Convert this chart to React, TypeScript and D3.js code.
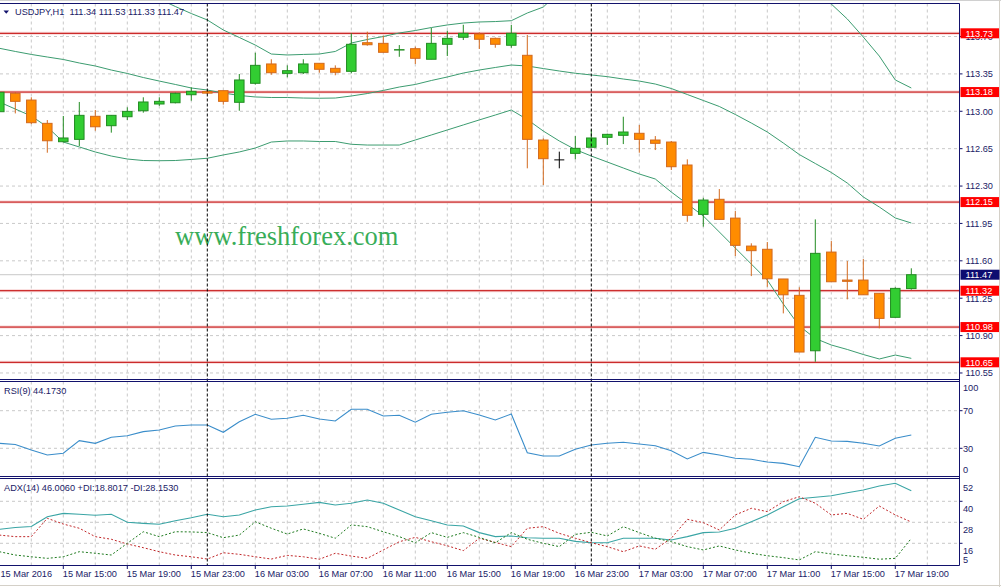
import React from "react";
import * as d3 from "d3";

// ---------- DATA ----------
const opens = [
  112.996, 113.168, 113.105, 112.887, 112.715, 112.737, 112.953, 112.865, 112.949, 113.005,
  113.068, 113.08, 113.155, 113.185, 113.193, 113.084, 113.262, 113.443, 113.355, 113.361,
  113.449, 113.402, 113.374, 113.642, 113.636, 113.574, 113.586, 113.487, 113.627, 113.693,
  113.723, 113.683, 113.618, 113.524, 112.731, 112.545, 112.606, 112.663, 112.756, 112.775,
  112.794, 112.731, 112.712, 112.497, 112.035, 112.176, 112.0, 111.738, 111.708, 111.43,
  111.277, 110.758, 111.682, 111.42, 111.42, 111.296, 111.071, 111.34,
];
const highs = [
  113.2, 113.18, 113.131, 112.918, 112.956, 113.087, 113.012, 112.962, 113.037, 113.131,
  113.131, 113.174, 113.224, 113.2, 113.193, 113.349, 113.548, 113.487, 113.43, 113.487,
  113.449, 113.43, 113.73, 113.745, 113.707, 113.62, 113.605, 113.78, 113.754, 113.81,
  113.739, 113.69, 113.808, 113.714, 112.747, 112.622, 112.768, 112.831, 112.79, 112.949,
  112.871, 112.768, 112.722, 112.55, 112.19, 112.272, 112.066, 111.764, 111.776, 111.43,
  111.352, 111.988, 111.785, 111.598, 111.617, 111.296, 111.352, 111.53,
];
const lows = [
  112.98, 112.98, 112.88, 112.612, 112.71, 112.675, 112.818, 112.8, 112.918, 112.987,
  113.05, 113.074, 113.099, 113.16, 113.062, 113.005, 113.25, 113.342, 113.318, 113.349,
  113.361, 113.337, 113.355, 113.614, 113.552, 113.51, 113.443, 113.487, 113.517, 113.667,
  113.583, 113.595, 113.595, 112.466, 112.31, 112.466, 112.55, 112.663, 112.685, 112.693,
  112.612, 112.637, 112.45, 111.966, 111.92, 111.988, 111.645, 111.457, 111.357, 111.108,
  110.746, 110.655, 111.404, 111.239, 111.282, 110.968, 111.071, 111.33,
];
const closes = [
  113.178, 113.093, 112.893, 112.724, 112.75, 112.962, 112.855, 112.962, 112.999, 113.087,
  113.093, 113.168, 113.187, 113.17, 113.093, 113.293, 113.43, 113.361, 113.38, 113.443,
  113.393, 113.365, 113.627, 113.623, 113.552, 113.577, 113.496, 113.636, 113.683, 113.73,
  113.674, 113.627, 113.73, 112.737, 112.556, 112.545, 112.653, 112.75, 112.784, 112.806,
  112.737, 112.7, 112.481, 112.026, 112.169, 111.988, 111.745, 111.695, 111.432, 111.282,
  110.746, 111.67, 111.404, 111.408, 111.282, 111.061, 111.342, 111.47,
];
const bbUpper = [
  114.51, 114.454, 114.397, 114.332, 114.276, 114.22, 114.173, 114.135, 114.107, 114.079,
  114.051, 113.981, 113.915, 113.855, 113.761, 113.691, 113.62, 113.536, 113.527, 113.532,
  113.536, 113.56, 113.639, 113.672, 113.7, 113.733, 113.756, 113.784, 113.808, 113.826,
  113.836, 113.84, 113.848, 113.92, 113.976, 114.117, 114.229, 114.304, 114.36, 114.397,
  114.416, 114.416, 114.397, 114.379, 114.351, 114.323, 114.285, 114.248, 114.21, 114.173,
  114.135, 114.089, 114.004, 113.864, 113.695, 113.517, 113.293, 113.218,
];
const bbMiddle = [
  113.59, 113.56, 113.532, 113.508, 113.485, 113.452, 113.424, 113.386, 113.354, 113.316,
  113.283, 113.251, 113.218, 113.199, 113.171, 113.148, 113.134, 113.129, 113.129, 113.124,
  113.122, 113.124, 113.143, 113.166, 113.195, 113.227, 113.251, 113.288, 113.321, 113.358,
  113.386, 113.41, 113.433, 113.424, 113.4, 113.377, 113.356, 113.34, 113.324, 113.302,
  113.283, 113.255, 113.213, 113.157, 113.101, 113.045, 112.97, 112.89, 112.806, 112.703,
  112.595, 112.511, 112.427, 112.328, 112.198, 112.104, 112.001, 111.954,
];
const bbLower = [
  113.087, 113.021, 112.956, 112.853, 112.712, 112.666, 112.619, 112.581, 112.553, 112.539,
  112.537, 112.539, 112.549, 112.56, 112.591, 112.619, 112.656, 112.712, 112.722, 112.722,
  112.717, 112.717, 112.691, 112.684, 112.684, 112.684, 112.731, 112.778, 112.825, 112.872,
  112.919, 112.965, 113.012, 112.923, 112.815, 112.722, 112.642, 112.581, 112.525, 112.469,
  112.413, 112.366, 112.244, 112.132, 112.02, 111.87, 111.72, 111.57, 111.42, 111.196,
  110.99, 110.873, 110.812, 110.77, 110.723, 110.681, 110.718, 110.687,
];
const rsiValues = [
  35.3, 34.0, 28.2, 22.9, 24.7, 38.1, 35.3, 41.7, 43.4, 47.7,
  49.5, 53.7, 54.8, 54.8, 47.0, 58.3, 66.2, 60.9, 61.9, 65.1,
  61.2, 59.0, 71.5, 71.5, 64.4, 65.1, 57.7, 66.2, 68.3, 70.0,
  65.4, 60.1, 66.5, 25.3, 21.8, 21.8, 28.9, 33.5, 35.3, 36.4,
  34.6, 32.8, 27.4, 18.6, 25.7, 22.9, 19.4, 18.3, 15.4, 14.0,
  10.4, 41.7, 37.8, 37.4, 35.3, 32.4, 40.6, 44.173,
];
const adxValues = [
  24.0, 25.0, 25.6, 31.2, 33.1, 32.6, 32.0, 32.6, 28.0, 27.4,
  26.9, 28.9, 30.6, 32.6, 31.2, 32.2, 35.0, 36.9, 37.3, 38.3,
  39.4, 37.9, 38.9, 40.7, 38.9, 35.0, 31.2, 28.9, 26.5, 25.9,
  22.1, 19.8, 20.2, 19.2, 18.9, 18.9, 17.1, 16.3, 16.3, 18.9,
  18.9, 18.9, 17.9, 19.8, 22.1, 22.5, 24.6, 28.3, 32.2, 36.9,
  41.5, 42.3, 43.2, 44.9, 46.5, 48.7, 50.3, 46.006,
];
const plusDI = [
  11.2, 9.3, 8.3, 7.4, 8.3, 11.2, 10.3, 9.3, 16.0, 22.6,
  19.8, 22.6, 22.5, 22.1, 19.2, 20.7, 28.3, 24.6, 21.3, 24.2,
  21.7, 18.9, 26.5, 25.5, 22.6, 19.8, 16.3, 22.1, 19.4, 22.1,
  19.4, 16.3, 22.1, 18.3, 16.0, 14.1, 21.1, 22.3, 20.2, 25.5,
  22.1, 18.9, 16.9, 14.1, 12.2, 14.5, 12.2, 10.3, 8.9, 7.8,
  6.5, 11.2, 9.9, 8.9, 8.0, 6.9, 7.4, 18.8017,
];
const minusDI = [
  20.7, 19.8, 19.8, 30.3, 27.0, 24.6, 19.8, 18.3, 15.6, 13.5,
  11.2, 9.3, 8.3, 7.0, 10.6, 9.7, 8.3, 7.0, 9.1, 8.3,
  6.9, 10.3, 8.7, 7.4, 12.2, 16.9, 19.4, 16.9, 14.6, 11.8,
  18.9, 16.5, 14.1, 24.6, 25.5, 21.7, 18.9, 16.3, 14.1, 11.2,
  14.5, 12.6, 18.9, 29.7, 27.8, 23.6, 32.2, 36.0, 34.1, 39.8,
  42.6, 38.9, 32.2, 33.1, 29.7, 37.3, 32.2, 28.153,
];

const priceTicks = [110.55, 110.9, 111.25, 111.6, 111.95, 112.3, 112.65, 113.0, 113.35, 113.7];
const levels = [113.73, 113.18, 112.15, 111.32, 110.98, 110.65];
const lastPrice = 111.47;
const timeLabels = [
  "15 Mar 2016", "15 Mar 15:00", "15 Mar 19:00", "15 Mar 23:00", "16 Mar 03:00",
  "16 Mar 07:00", "16 Mar 11:00", "16 Mar 15:00", "16 Mar 19:00", "16 Mar 23:00",
  "17 Mar 03:00", "17 Mar 07:00", "17 Mar 11:00", "17 Mar 15:00", "17 Mar 19:00",
];
const timeLabelBars = [0, 4, 8, 12, 16, 20, 24, 28, 32, 36, 40, 44, 48, 52, 56];
const separatorBars = [13, 37];
const rsiTicks = [100, 70, 30, 0];
const rsiGrid = [70, 30];
const adxTicks = [52, 40, 28, 16, 5];
const adxGrid = [40, 28, 16];
const titleText = "USDJPY,H1\u00a0\u00a0111.34 111.53 111.33 111.47";
const rsiTitle = "RSI(9) 44.1730";
const adxTitle = "ADX(14) 46.0060 +DI:18.8017 -DI:28.1530";
const watermark = "www.freshforex.com";

// ---------- LAYOUT ----------
const W = 1001;
const H = 587;
const AX = 959.5;
const MAIN = { top: 3.5, bottom: 379.5 };
const RSI = { top: 381.5, bottom: 476.5 };
const ADX = { top: 478.5, bottom: 565.5 };
const NAVY = "#12126c";
const TEXT = "#1a1a66";
const GRID = "#c9c9c9";
const FONT = "'Liberation Sans', Arial, Helvetica, sans-serif";
const FS = 9.2;

export default function App() {
  const x = d3.scaleLinear().domain([0, 60]).range([-0.7, 959.3]);
  const yMain = d3.scaleLinear().domain([110.65, 113.73]).range([362.3, 33.3]);
  const yRsi = d3.scaleLinear().domain([0, 100]).range([RSI.bottom, 382.5]);
  const yAdx = d3.scaleLinear().domain([16, 40]).range([543.3, 501.3]);

  const mk = (ys: (v: number) => number) =>
    d3.line<number>().x((_, i) => x(i)).y((d) => ys(d));

  const gridBars = d3.range(0, 60, 2);
  const n = closes.length;
  const bars = d3.range(n);

  const vGrid = (top: number, bottom: number, key: string) =>
    gridBars.map((b) => (
      <line key={key + b} x1={x(b)} x2={x(b)} y1={top} y2={bottom}
        stroke={GRID} strokeDasharray="3,3" strokeWidth={1} />
    ));

  const axisText = (key: string, tx: number, ty: number, s: string, fill = TEXT) => (
    <text key={key} x={tx} y={ty + 3.3} fontFamily={FONT} fontSize={FS} fill={fill}>{s}</text>
  );

  return (
    <div style={{ position: "absolute", left: 0, top: 0 }}>
      <style>{`body{margin:0}`}</style>
      <svg width={W} height={H} viewBox={`0 0 ${W} ${H}`} style={{ display: "block" }}>
        <defs>
          <clipPath id="cMain"><rect x={0} y={MAIN.top + 0.5} width={AX} height={MAIN.bottom - MAIN.top - 0.5} /></clipPath>
          <clipPath id="cRsi"><rect x={0} y={RSI.top + 0.5} width={AX} height={RSI.bottom - RSI.top - 0.5} /></clipPath>
          <clipPath id="cAdx"><rect x={0} y={ADX.top + 0.5} width={AX} height={ADX.bottom - ADX.top - 0.5} /></clipPath>
        </defs>
        <rect x={0} y={0} width={W} height={H} fill="#ffffff" />

        {/* ---------- MAIN PANEL ---------- */}
        <g clipPath="url(#cMain)">
          {vGrid(MAIN.top, MAIN.bottom, "mg")}
          {priceTicks.map((p) => (
            <line key={"hp" + p} x1={0} x2={AX} y1={yMain(p)} y2={yMain(p)}
              stroke={GRID} strokeDasharray="3,3" />
          ))}
          <line x1={0} x2={AX} y1={yMain(lastPrice)} y2={yMain(lastPrice)} stroke="#c8c8c8" strokeWidth={1} />
          {levels.map((l) => (
            <g key={"lv" + l}>
              <line x1={0} x2={AX} y1={yMain(l)} y2={yMain(l)} stroke="#f8d6d6" strokeWidth={3} />
              <line x1={0} x2={AX} y1={yMain(l)} y2={yMain(l)} stroke="#c00000" strokeWidth={1} />
            </g>
          ))}
          <text x={175} y={245} fontFamily="'Liberation Serif', 'Times New Roman', serif" fontSize={26.5} fill="#38ad58">{watermark}</text>
          <path d={mk(yMain)(bbUpper) || ""} fill="none" stroke="#3c9c70" strokeWidth={1} />
          <path d={mk(yMain)(bbMiddle) || ""} fill="none" stroke="#3c9c70" strokeWidth={1} />
          <path d={mk(yMain)(bbLower) || ""} fill="none" stroke="#3c9c70" strokeWidth={1} />
          {bars.map((i) => {
            const o = opens[i], c = closes[i], h = highs[i], l = lows[i];
            const cx = x(i);
            if (o === c) {
              return (
                <g key={"c" + i} stroke="#000000" strokeWidth={1}>
                  <line x1={cx} x2={cx} y1={yMain(h)} y2={yMain(l)} />
                  <line x1={cx - 5} x2={cx + 5} y1={yMain(o)} y2={yMain(o)} />
                </g>
              );
            }
            const bull = c > o;
            const stroke = bull ? "#228b22" : "#d2691e";
            const fill = bull ? "#32cd32" : "#ff8c00";
            const top = yMain(Math.max(o, c));
            const bot = yMain(Math.min(o, c));
            return (
              <g key={"c" + i}>
                <line x1={cx} x2={cx} y1={yMain(h)} y2={yMain(l)} stroke={stroke} strokeWidth={1} />
                <rect x={cx - 4.75} y={top} width={9.5} height={Math.max(bot - top, 0.4)}
                  fill={fill} stroke={stroke} strokeWidth={1} />
              </g>
            );
          })}
        </g>

        {/* ---------- RSI PANEL ---------- */}
        <g clipPath="url(#cRsi)">
          {vGrid(RSI.top, RSI.bottom, "rg")}
          {rsiGrid.map((v) => (
            <line key={"rh" + v} x1={0} x2={AX} y1={yRsi(v)} y2={yRsi(v)} stroke={GRID} strokeDasharray="3,3" />
          ))}
          <path d={mk(yRsi)(rsiValues) || ""} fill="none" stroke="#3a8dca" strokeWidth={1.1} />
        </g>

        {/* ---------- ADX PANEL ---------- */}
        <g clipPath="url(#cAdx)">
          {vGrid(ADX.top, ADX.bottom, "ag")}
          {adxGrid.map((v) => (
            <line key={"ah" + v} x1={0} x2={AX} y1={yAdx(v)} y2={yAdx(v)} stroke={GRID} strokeDasharray="3,3" />
          ))}
          <path d={mk(yAdx)(adxValues) || ""} fill="none" stroke="#3aa5a5" strokeWidth={1.1} />
          <path d={mk(yAdx)(minusDI) || ""} fill="none" stroke="#c0282a" strokeWidth={1} strokeDasharray="2,2" />
          <path d={mk(yAdx)(plusDI) || ""} fill="none" stroke="#1f7a1f" strokeWidth={1} strokeDasharray="2,2" />
        </g>

        {/* period separators */}
        {separatorBars.map((b) => (
          <line key={"sep" + b} x1={x(b)} x2={x(b)} y1={MAIN.top} y2={ADX.bottom}
            stroke="#000000" strokeWidth={1} strokeDasharray="3,2" />
        ))}

        {/* ---------- FRAME ---------- */}
        <line x1={0} x2={W} y1={0.5} y2={0.5} stroke="#d0d0d0" />
        <line x1={0} x2={AX} y1={MAIN.top} y2={MAIN.top} stroke={NAVY} />
        <line x1={0} x2={AX} y1={MAIN.bottom} y2={MAIN.bottom} stroke={NAVY} />
        <line x1={0} x2={AX} y1={RSI.top} y2={RSI.top} stroke={NAVY} />
        <line x1={0} x2={AX} y1={RSI.bottom} y2={RSI.bottom} stroke={NAVY} />
        <line x1={0} x2={AX} y1={ADX.top} y2={ADX.top} stroke={NAVY} />
        <line x1={0} x2={AX} y1={ADX.bottom} y2={ADX.bottom} stroke={NAVY} />
        <line x1={AX} x2={AX} y1={MAIN.top} y2={ADX.bottom} stroke={NAVY} />
        <line x1={999.5} x2={999.5} y1={0} y2={H} stroke="#d4d0c8" />
        <line x1={0} x2={W} y1={585.5} y2={585.5} stroke="#d4d0c8" />

        {/* title + indicator captions */}
        <path d="M3.5,10.5 L9,10.5 L6.25,13.8 Z" fill={NAVY} />
        <text x={15} y={15} fontFamily={FONT} fontSize={FS} fill={TEXT} xmlSpace="preserve">{titleText}</text>
        {axisText("rsiT", 4, 390.7, rsiTitle)}
        {axisText("adxT", 4, 487.7, adxTitle)}

        {/* price axis */}
        {priceTicks.map((p) => (
          <g key={"pt" + p}>
            <line x1={AX} x2={AX + 3} y1={yMain(p)} y2={yMain(p)} stroke={NAVY} />
            {axisText("ptt" + p, 965.5, yMain(p), p.toFixed(2))}
          </g>
        ))}
        {levels.map((l) => (
          <g key={"ll" + l}>
            <rect x={960.5} y={yMain(l) - 5} width={38.5} height={10} fill="#ff0000" />
            {axisText("llt" + l, 965.5, yMain(l), l.toFixed(2), "#ffffff")}
          </g>
        ))}
        <rect x={960.5} y={yMain(lastPrice) - 5} width={39} height={10} fill="#0c0c70" />
        {axisText("lp", 965.5, yMain(lastPrice), lastPrice.toFixed(2), "#ffffff")}

        {/* RSI axis */}
        {rsiTicks.map((v) => {
          const yy = Math.max(RSI.top + 6.5, Math.min(RSI.bottom - 7, yRsi(v)));
          return (
            <g key={"rt" + v}>
              {rsiGrid.includes(v) && <line x1={AX} x2={AX + 3} y1={yRsi(v)} y2={yRsi(v)} stroke={NAVY} />}
              {axisText("rtt" + v, 963, yy, String(v))}
            </g>
          );
        })}

        {/* ADX axis */}
        {adxTicks.map((v) => {
          const yy = Math.max(ADX.top + 7.5, Math.min(ADX.bottom - 6, yAdx(v) + 7));
          return (
            <g key={"at" + v}>
              {adxGrid.includes(v) && <line x1={AX} x2={AX + 3} y1={yAdx(v)} y2={yAdx(v)} stroke={NAVY} />}
              {axisText("att" + v, 963, yy, String(v))}
            </g>
          );
        })}

        {/* time axis */}
        {timeLabelBars.map((b, k) => (
          <g key={"tl" + b}>
            <line x1={x(b)} x2={x(b)} y1={ADX.bottom} y2={ADX.bottom + 3.5} stroke={NAVY} />
            {axisText("tlt" + b, Math.max(0.5, x(b) - 0.5), 574, timeLabels[k])}
          </g>
        ))}
      </svg>
    </div>
  );
}
